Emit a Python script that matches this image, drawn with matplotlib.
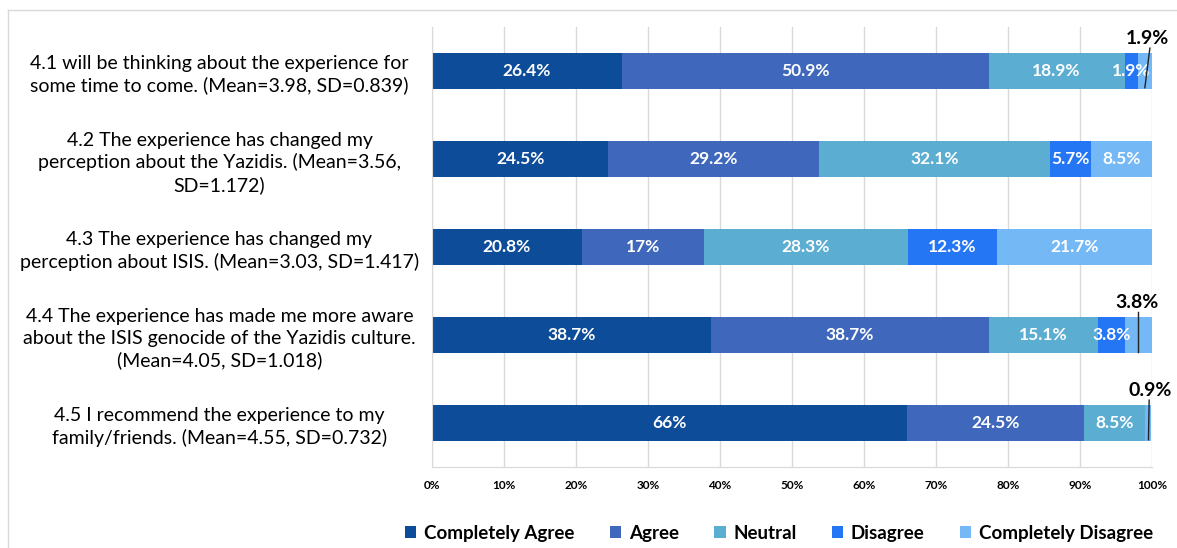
import numpy as np
import matplotlib.pyplot as plt
from matplotlib.lines import Line2D

questions = [
    "4.1 will be thinking about the experience for\nsome time to come. (Mean=3.98, SD=0.839)",
    "4.2 The experience has changed my\nperception about the Yazidis. (Mean=3.56,\nSD=1.172)",
    "4.3 The experience has changed my\nperception about ISIS. (Mean=3.03, SD=1.417)",
    "4.4 The experience has made me more aware\nabout the ISIS genocide of the Yazidis culture.\n(Mean=4.05, SD=1.018)",
    "4.5 I recommend the experience to my\nfamily/friends. (Mean=4.55, SD=0.732)",
]
categories = ["Completely Agree", "Agree", "Neutral", "Disagree", "Completely Disagree"]
completely_agree = [26.4, 24.5, 20.8, 38.7, 66]
agree = [50.9, 29.2, 17, 38.7, 24.5]
neutral = [18.9, 32.1, 28.3, 15.1, 8.5]
disagree = [1.9, 5.7, 12.3, 3.8, 0]
completely_disagree = [1.9, 8.5, 21.7, 3.8, 0.9]
value_labels = [
    ["26.4%", "24.5%", "20.8%", "38.7%", "66%"],
    ["50.9%", "29.2%", "17%", "38.7%", "24.5%"],
    ["18.9%", "32.1%", "28.3%", "15.1%", "8.5%"],
    ["1.9%", "5.7%", "12.3%", "3.8%", ""],
    ["1.9%", "8.5%", "21.7%", "3.8%", "0.9%"],
]
colors = ["#0d4c98", "#3f68bc", "#5badd2", "#2576f5", "#74b8f5"]

series = [completely_agree, agree, neutral, disagree, completely_disagree]

plt.rcParams['font.family'] = ['Lato', 'DejaVu Sans']

fig = plt.figure(figsize=(11.77, 5.48), dpi=100)
ax = fig.add_axes([0.367, 0.1478, 0.6118, 0.8029])

y = np.arange(len(questions))
left = np.zeros(len(questions))
for s, (vals, name, col) in enumerate(zip(series, categories, colors)):
    vals = np.array(vals, dtype=float)
    ax.barh(y, vals, left=left, height=0.41, color=col, label=name, zorder=2)
    for i in range(len(questions)):
        lab = value_labels[s][i]
        if lab and not (s == 4 and vals[i] < 5):
            ax.text(left[i] + vals[i] / 2, y[i], lab, ha='center', va='center',
                    color='white', fontsize=12.5, fontweight='bold', zorder=3)
    left += vals

# callouts for the small "Completely Disagree" pieces: row -> (label x, line top x, line bottom x)
callouts = {0: (99.4, 99.7, 99.0), 3: (97.9, 98.1, 98.1), 4: (99.7, 99.6, 99.5)}
for i, (xt, x0, x1) in callouts.items():
    ax.plot([x0, x1], [y[i] - 0.26, y[i] + 0.19], color='#222222', lw=1, zorder=4,
            clip_on=False)
    ax.text(xt, y[i] - 0.37, value_labels[4][i], ha='center', va='center', fontsize=14,
            fontweight='bold', color='black', zorder=4)

ax.set_xlim(0, 100)
ax.set_ylim(len(questions) - 0.5, -0.5)
ax.set_xticks(np.arange(0, 101, 10))
ax.set_xticklabels([f"{t}%" for t in range(0, 101, 10)], fontsize=8.5, fontweight='bold')
ax.set_yticks(y)
ax.set_yticklabels(questions, fontsize=14, ha='center', linespacing=1.3)
ax.tick_params(axis='y', length=0, pad=153)
ax.tick_params(axis='x', length=0, pad=9)
ax.grid(axis='x', color='#d9d9d9', lw=1, zorder=0)
for sp in ['top', 'right']:
    ax.spines[sp].set_visible(False)
for sp in ['left', 'bottom']:
    ax.spines[sp].set_color('#d9d9d9')

ax.legend(loc='center', bbox_to_anchor=(0.482, -0.15), ncol=5, frameon=False,
          prop={'size': 13.5, 'weight': 'bold'}, handlelength=0.6, handleheight=0.6,
          handletextpad=0.4, columnspacing=1.9)

# outer frame lines
fig.add_artist(Line2D([8 / 1177, 1], [1 - 10 / 548, 1 - 10 / 548], color='#d9d9d9', lw=1))
fig.add_artist(Line2D([8 / 1177, 8 / 1177], [0, 1 - 10 / 548], color='#d9d9d9', lw=1))

fig.savefig("out.png", dpi=100)
